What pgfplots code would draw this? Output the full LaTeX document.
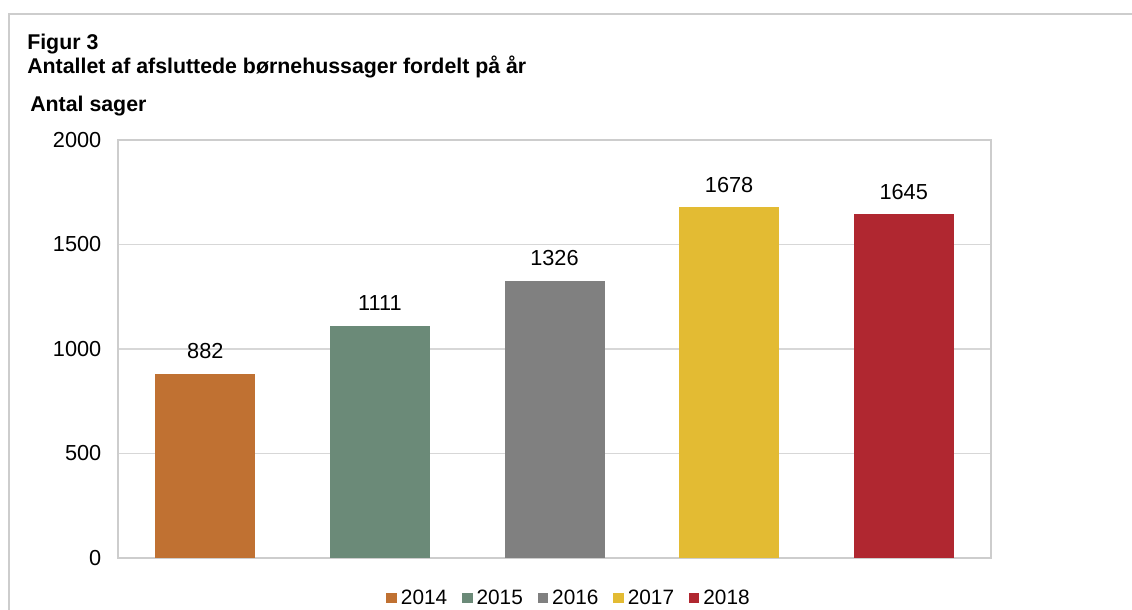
\documentclass[border=0pt]{standalone}
\usepackage{fontspec}
\setmainfont{Liberation Sans}
\usepackage{pgfplots}
\pgfplotsset{compat=1.18}
\definecolor{cA}{RGB}{192,113,50}
\definecolor{cB}{RGB}{107,138,120}
\definecolor{cC}{RGB}{128,128,128}
\definecolor{cD}{RGB}{227,187,51}
\definecolor{cE}{RGB}{176,39,48}
\definecolor{frame}{RGB}{205,205,205}
\definecolor{gridc}{RGB}{215,215,215}
\newcommand{\f}{\fontsize{16.3}{19}\selectfont}
\newcommand{\ft}{\fontsize{16}{19}\selectfont}
\newcommand{\fl}{\fontsize{15.6}{19}\selectfont}
\begin{document}
\begin{tikzpicture}[x=0.75pt,y=0.75pt]
\useasboundingbox (0,0) rectangle (1132,610);
\draw[frame, line width=1.2pt] (9,0) -- (9,596) -- (1132,596);
\node[anchor=base west, inner sep=0pt, font=\ft\bfseries] at (27,560) {Figur 3};
\node[anchor=base west, inner sep=0pt, font=\ft\bfseries] at (27,536) {Antallet af afsluttede børnehussager fordelt på år};
\node[anchor=base west, inner sep=0pt, font=\ft\bfseries] at (30,498) {Antal sager};
\begin{axis}[
  at={(88.5pt,39pt)}, anchor=south west, scale only axis,
  width=654.75pt, height=313.5pt,
  xmin=-0.5, xmax=4.5, ymin=0, ymax=2000,
  xtick=\empty, ytick={0,500,1000,1500,2000},
  ymajorgrids, grid style={gridc, line width=0.8pt},
  axis line style={frame, line width=1pt},
  major tick length=0pt,
  tick label style={font=\f},
  /pgf/number format/assume math mode=true,
  /pgf/number format/1000 sep={},
  yticklabel style={xshift=-9pt},
  ybar, bar width=75pt, bar shift=0pt,
  nodes near coords,
  nodes near coords style={font=\f, anchor=south, inner sep=0pt, yshift=11pt, text=black},
  legend columns=5,
  legend style={at={(0.517,-0.0957)}, anchor=center, draw=none, font=\fl,
    /tikz/every even column/.append style={column sep=9pt},
    /tikz/every odd column/.append style={column sep=1pt}},
  legend image code/.code={\fill[#1] (0pt,-4pt) rectangle (8pt,4pt);},
]
\addplot[fill=cA, draw=none] coordinates {(0,882)};
\addplot[fill=cB, draw=none] coordinates {(1,1111)};
\addplot[fill=cC, draw=none] coordinates {(2,1326)};
\addplot[fill=cD, draw=none] coordinates {(3,1678)};
\addplot[fill=cE, draw=none] coordinates {(4,1645)};
\legend{2014,2015,2016,2017,2018}
\end{axis}
\end{tikzpicture}
\end{document}
